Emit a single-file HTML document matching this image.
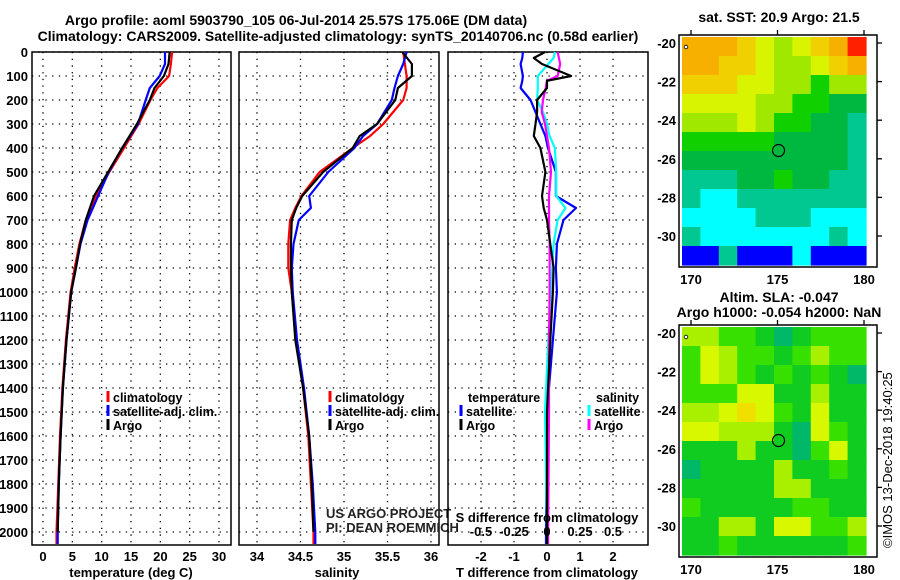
<!DOCTYPE html>
<html><head><meta charset="utf-8">
<style>
html,body{margin:0;padding:0;background:#fff;}
svg{display:block;font-family:"Liberation Sans",Arial,sans-serif;}
.t{font-weight:bold;font-size:14px;}
.tk{font-weight:bold;font-size:13px;}
.lg{font-weight:bold;font-size:12.5px;}
</style></head>
<body>
<svg id="c" width="900" height="580" viewBox="0 0 900 580">
<text class="t" x="296" y="25" text-anchor="middle">Argo profile: aoml 5903790_105 06-Jul-2014 25.57S 175.06E (DM data)</text>
<text class="t" x="338" y="41" text-anchor="middle">Climatology: CARS2009. Satellite-adjusted climatology: synTS_20140706.nc (0.58d earlier)</text>
<text class="t" x="779" y="22" text-anchor="middle">sat. SST: 20.9 Argo: 21.5</text>
<text class="t" x="779" y="302" text-anchor="middle">Altim. SLA: -0.047</text>
<text class="t" x="779" y="317" text-anchor="middle">Argo h1000: -0.054 h2000: NaN</text>
<text x="892" y="548" font-size="13" transform="rotate(-90 892 548)">©IMOS 13-Dec-2018 19:40:25</text>
</svg>
<script>
// ---------- data ----------
const depthT = [0,50,100,150,200,300,400,500,600,700,800,900,1000,1200,1400,1600,1800,2000,2050];
const tempClim = [22.0,21.8,21.5,19.5,18.3,16.3,13.8,11.3,9.0,7.3,6.2,5.4,4.7,3.9,3.3,2.9,2.6,2.3,2.3];
const tempSat  = [20.8,20.8,19.9,18.2,17.5,16.2,13.5,11.2,9.4,7.6,6.4,5.6,4.8,4.0,3.4,3.0,2.7,2.5,2.5];
const tempArgo = [21.6,21.4,20.6,19.0,18.2,16.0,13.5,11.1,8.7,7.3,6.3,5.6,4.8,4.0,3.4,3.0,2.7,2.5];
const depthS = [0,50,100,150,200,300,350,400,500,600,650,700,800,900,1000,1200,1400,1600,1800,2000,2050];
const salClim = [35.68,35.70,35.72,35.72,35.68,35.45,35.30,35.10,34.72,34.51,34.44,34.38,34.36,34.36,34.40,34.45,34.53,34.59,34.62,34.65,34.65];
const salSat  = [35.72,35.68,35.62,35.58,35.55,35.38,35.22,35.12,34.82,34.60,34.62,34.48,34.42,34.40,34.41,34.46,34.54,34.60,34.64,34.67,34.67];
const salArgo = [35.67,35.78,35.78,35.62,35.59,35.38,35.18,35.10,34.76,34.52,34.45,34.40,34.39,34.39,34.40,34.44,34.53,34.60,34.63,34.65];
const depthD = [0,25,50,100,120,150,200,250,300,350,400,500,600,650,700,800,900,1000,1200,1500,2000,2050];
const dTSat  = [-0.73,-0.75,-0.8,-0.73,-0.75,-0.8,-0.5,-0.35,-0.2,-0.05,0.03,0.27,0.27,0.88,0.5,0.3,0.27,0.3,0.18,0.0,-0.03,-0.03];
const dTArgo = [-0.06,-0.4,-0.15,0.73,0.0,0.0,-0.3,-0.3,-0.35,-0.4,-0.2,-0.05,-0.15,-0.1,0.0,0.1,0.2,0.18,0.1,0.0,0.0,0.0];
const dSSat  = [0.06,0.05,0.01,-0.07,-0.07,-0.07,-0.075,-0.03,0.0,0.02,0.06,0.07,0.07,0.14,0.08,0.05,0.04,0.03,0.01,-0.015,0.0,0.0];
const dSArgo = [0.08,0.09,0.10,0.08,0.0,-0.01,-0.03,-0.04,-0.015,0.0,0.015,0.03,0.015,0.015,0.015,0.02,0.02,0.02,0.015,0.015,0.008,0.008];
const depthTicks = [0,100,200,300,400,500,600,700,800,900,1000,1100,1200,1300,1400,1500,1600,1700,1800,1900,2000];
const tempTicks = [0,5,10,15,20,25,30];
const salTicks = [34,34.5,35,35.5,36];
const salTickLabels = ["34","34.5","35","35.5","36"];
const dTTicks = [-2,-1,0,1,2];
const dSTicks = [-0.5,-0.25,0,0.25,0.5];
const dSTickLabels = ["-0.5","-0.25","0","0.25","0.5"];
const lonTicks = [170,175,180];
const latTicks = [-20,-22,-24,-26,-28,-30];
const sstGrid = [
[8,8,8,7,6,5,6,7,8,9],
[8,8,7,7,6,5,5,6,7,8],
[7,7,7,6,6,5,5,4,5,5],
[6,6,6,6,5,5,4,4,3,3],
[5,5,5,6,5,4,4,3,3,2],
[4,4,4,4,4,3,3,3,3,2],
[3,3,3,3,3,3,3,3,3,2],
[2,2,2,3,3,4,3,3,2,2],
[2,1,1,2,2,2,2,2,2,2],
[1,1,1,1,2,2,2,1,1,1],
[2,1,1,1,1,1,1,1,2,1],
[0,0,2,0,0,0,1,0,0,0]];
const sstPalette = ["#0000ff","#00ffff","#00c890","#00b840","#10d000","#a0e800","#d8f400","#f0d000","#f8b000","#ff2000"];
const slaGrid = [
[3,3,2,2,1,0,1,2,2,2],
[2,4,3,2,2,1,2,3,2,2],
[2,4,3,2,1,2,1,2,1,0],
[2,2,2,4,4,1,1,3,1,1],
[3,3,4,5,4,2,1,4,1,1],
[4,4,3,3,3,1,0,4,2,1],
[1,1,1,3,1,1,0,2,4,1],
[0,1,1,1,1,3,1,1,2,1],
[1,1,1,1,1,3,3,1,1,1],
[2,1,1,1,1,1,2,2,1,1],
[1,1,3,3,1,4,4,2,2,3],
[1,1,2,1,1,1,1,1,1,2]];
const slaPalette = ["#00b868","#10cc20","#38e000","#a8f000","#d8f800","#f0e000"];
const argoLon = 175.06, argoLat = -25.57;

// ---------- helpers ----------
const svg = document.getElementById('c');
const NS = 'http://www.w3.org/2000/svg';
function mk(tag, attrs, parent){
  const e = document.createElementNS(NS, tag);
  for (const k in attrs) e.setAttribute(k, attrs[k]);
  (parent||svg).appendChild(e);
  return e;
}
const yTop = 52, pxPer100 = 24, yBot = 545;
function yD(d){ return yTop + d*pxPer100/100; }
function lin(d0,p0,d1,p1){ return v => p0 + (v-d0)*(p1-p0)/(d1-d0); }
const xT = lin(0,43,30,219);
const xS = lin(34,257,36,431);
const xDT = lin(0,547,2,613);
const xDS = lin(0,547,0.5,613);

function panel(x0,x1,name,xticks,xs){
  const g = mk('g',{});
  
  
  depthTicks.forEach(d=>{
    const gl = mk('line',{x1:x0,x2:x1,y1:yD(d),y2:yD(d),stroke:'#000','stroke-width':1.3,'stroke-dasharray':'1.3 5.4'},g);
    
    
  });
  xticks.forEach(v=>{
    const gl = mk('line',{x1:xs(v),x2:xs(v),y1:yTop,y2:yBot,stroke:'#000','stroke-width':1.3,'stroke-dasharray':'1.3 5.4'},g);
    
    
  });
  const fr = mk('rect',{x:x0,y:yTop,width:x1-x0,height:yBot-yTop,fill:'none',stroke:'#000','stroke-width':1.5},g);
  
  
  return g;
}
function series(xs, vals, depths, color, name, parent){
  const pts = vals.map((v,i)=>xs(v).toFixed(1)+','+yD(depths[i]).toFixed(1)).join(' ');
  const p = mk('polyline',{points:pts,fill:'none',stroke:color,'stroke-width':2.2,'stroke-linejoin':'round'},parent);
  
  
}
function txt(x,y,s,anchor,cls,name,extra){
  const t = mk('text',Object.assign({x:x,y:y,'text-anchor':anchor||'start',class:cls||'tk'},extra||{}));
  t.textContent = s;
  
  
  return t;
}
function legendMark(x,y,color,name){
  const l = mk('line',{x1:x,x2:x,y1:y-11,y2:y,stroke:color,'stroke-width':3});
  
  
}

// ---------- panel 1 temperature ----------
const p1 = panel(32,231,'temperature-panel',tempTicks,xT);
series(xT,tempClim,depthT,'#ff0000','temp-climatology-line',p1);
series(xT,tempSat,depthT,'#0000ff','temp-satellite-line',p1);
series(xT,tempArgo,depthT,'#000000','temp-argo-line',p1);
depthTicks.forEach(d=>txt(28,yD(d)+5,String(d),'end','tk','depth-tick-label'));
tempTicks.forEach(v=>txt(xT(v),561,String(v),'middle','tk','temp-tick-label'));
txt(131,577,'temperature (deg C)','middle','tk','temp-axis-title');
legendMark(108,402,'#ff0000','legend-climatology-mark');
txt(113,402,'climatology','start','lg','legend-climatology');
legendMark(108,416,'#0000ff','legend-satellite-mark');
txt(113,416,'satellite-adj. clim.','start','lg','legend-satellite');
legendMark(108,430,'#000','legend-argo-mark');
txt(113,430,'Argo','start','lg','legend-argo');

// ---------- panel 2 salinity ----------
const p2 = panel(239,439,'salinity-panel',salTicks,xS);
series(xS,salClim,depthS,'#ff0000','sal-climatology-line',p2);
series(xS,salSat,depthS,'#0000ff','sal-satellite-line',p2);
series(xS,salArgo,depthS,'#000000','sal-argo-line',p2);
salTicks.forEach((v,i)=>txt(xS(v),561,salTickLabels[i],'middle','tk','sal-tick-label'));
txt(337,577,'salinity','middle','tk','sal-axis-title');
legendMark(330,402,'#ff0000','sal-legend-climatology-mark');
txt(335,402,'climatology','start','lg','sal-legend-climatology');
legendMark(330,416,'#0000ff','sal-legend-satellite-mark');
txt(335,416,'satellite-adj. clim.','start','lg','sal-legend-satellite');
legendMark(330,430,'#000','sal-legend-argo-mark');
txt(335,430,'Argo','start','lg','sal-legend-argo');
txt(326,518,'US ARGO PROJECT','start','','us-argo-label',{'font-size':'13','fill':'#222'});
txt(326,532,'PI: DEAN ROEMMICH','start','','pi-label',{'font-size':'13','fill':'#222'});

// ---------- panel 3 differences ----------
const p3 = panel(448,648,'difference-panel',dTTicks,xDT);
series(xDT,dTSat,depthD,'#0000ff','dt-satellite-line',p3);
series(xDS,dSSat,depthD,'#00ffff','ds-satellite-line',p3);
series(xDS,dSArgo,depthD,'#ff00ff','ds-argo-line',p3);
series(xDT,dTArgo,depthD,'#000000','dt-argo-line',p3);
dTTicks.forEach(v=>txt(xDT(v),561,String(v),'middle','tk','dt-tick-label'));
dSTicks.forEach((v,i)=>txt(xDS(v),536,dSTickLabels[i],'middle','tk','ds-tick-label'));
txt(547,522,'S difference from climatology','middle','tk','ds-axis-title');
txt(547,577,'T difference from climatology','middle','tk','dt-axis-title');
txt(468,402,'temperature','start','lg','diff-legend-temperature-header');
txt(596,402,'salinity','start','lg','diff-legend-salinity-header');
legendMark(461,416,'#0000ff','diff-legend-t-sat-mark');
txt(466,416,'satellite','start','lg','diff-legend-t-sat');
legendMark(461,430,'#000','diff-legend-t-argo-mark');
txt(466,430,'Argo','start','lg','diff-legend-t-argo');
legendMark(589,416,'#00ffff','diff-legend-s-sat-mark');
txt(594,416,'satellite','start','lg','diff-legend-s-sat');
legendMark(589,430,'#ff00ff','diff-legend-s-argo-mark');
txt(594,430,'Argo','start','lg','diff-legend-s-argo');

// ---------- maps ----------
function mapPanel(yOff, grid, pal, name){
  const g = mk('g',{});
  
  
  const lonX = lin(170,691,180,864);
  const latY = lin(-20,43+yOff,-30,236+yOff);
  const dx0 = 682, dx1 = 866, dy0 = 37+yOff, dy1 = 265+yOff;
  const rows = grid.length, cols = grid[0].length;
  const cw = (dx1-dx0)/cols, ch = (dy1-dy0)/rows;
  grid.forEach((row,r)=>row.forEach((v,c)=>{
    const cell = mk('rect',{x:(dx0+c*cw).toFixed(2),y:(dy0+r*ch).toFixed(2),width:(cw+0.6).toFixed(2),height:(ch+0.6).toFixed(2),fill:pal[v]},g);
    
    
  }));
  const fr = mk('rect',{x:679,y:35+yOff,width:198,height:232,fill:'none',stroke:'#000','stroke-width':1.5},g);
  
  
  lonTicks.forEach(v=>{
    const tk = mk('line',{x1:lonX(v),x2:lonX(v),y1:35+yOff,y2:30+yOff,stroke:'#000','stroke-width':1.3},g);
    
    
    txt(lonX(v),284+yOff,String(v),'middle','tk','lon-tick-label');
  });
  latTicks.forEach(v=>{
    const tk = mk('line',{x1:877,x2:882,y1:latY(v),y2:latY(v),stroke:'#000','stroke-width':1.3},g);
    
    
    txt(676,latY(v)+5,String(v),'end','tk','lat-tick-label');
  });
  const circ = mk('circle',{cx:lonX(argoLon),cy:latY(argoLat),r:6,fill:'none',stroke:'#000','stroke-width':1.2},g);
  
  
  const dm = mk('circle',{cx:686,cy:47+yOff,r:1.8,fill:'#fff',stroke:'#000','stroke-width':0.8},g);
  
  
}
mapPanel(0, sstGrid, sstPalette, 'sst-map');
mapPanel(290, slaGrid, slaPalette, 'sla-map');
</script>
</body></html>
